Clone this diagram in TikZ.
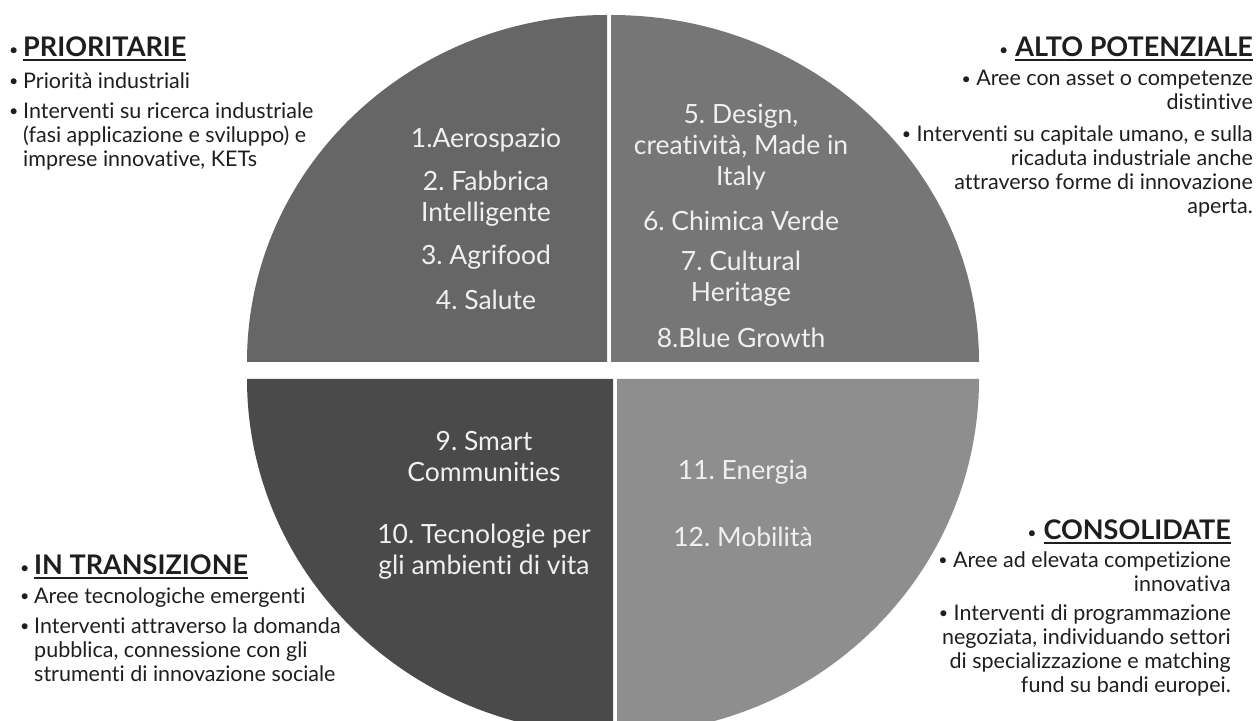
\documentclass[tikz,border=0pt]{standalone}
\usepackage{fontspec}
\setmainfont{Lato}[Ligatures=CommonOff]
\usepackage{tikz}

\definecolor{quadTL}{HTML}{666666}
\definecolor{quadTR}{HTML}{767676}
\definecolor{quadBL}{HTML}{4A4A4A}
\definecolor{quadBR}{HTML}{8E8E8E}
\definecolor{quadink}{HTML}{F0F0F0}
\definecolor{sideink}{HTML}{1E1E1E}

\newcommand{\smallbullet}{\raisebox{1.5pt}{\mdseries\fontsize{16}{18}\selectfont\textbullet}}
\newcommand{\sidebullet}{\makebox[14pt][l]{\smallbullet}}
\newcommand{\sideindent}{\hspace*{14pt}}
\newcommand{\headbullet}{\smallbullet\hspace{7pt}}
\newcommand{\headul}[1]{\setbox0\hbox{#1}\rlap{\rule[-4pt]{\wd0}{2pt}}\box0}

\begin{document}
\frenchspacing
\begin{tikzpicture}[
x=1pt, y=1pt, % one unit per pixel of the 1260x720 canvas
every node/.style={inner sep=0pt},
quadtext/.style={align=center, text=quadink, font=\fontsize{26.5}{31}\selectfont},
sidetext/.style={text=sideink, font=\fontsize{21.5}{24}\selectfont},
headtext/.style={text=sideink, font=\fontsize{27}{30}\selectfont\bfseries}
]
\useasboundingbox (0,0) rectangle (1260,720);
\clip (0,0) rectangle (1260,720);

% ================= Quadrants (four quarters of the ellipse) =================

\fill[quadTL] (607,358) -- (247,358) arc[start angle=180, end angle=90, x radius=360, y radius=347] -- cycle;
\fill[quadTR] (611,358) -- (611,705) arc[start angle=90, end angle=0, x radius=368, y radius=347] -- cycle;
\fill[quadBL] (613,341) -- (247,341) arc[start angle=180, end angle=270, x radius=366, y radius=355] -- cycle;
\fill[quadBR] (617,341) -- (617,-14) arc[start angle=270, end angle=360, x radius=362, y radius=355] -- cycle;

% ================= Areas inside the quadrants =================

% Top left
\node[quadtext] (aero) at (486, 580) {1.Aerospazio};
\node[quadtext] (fabbrica) at (486, 521) {2. Fabbrica\\Intelligente};
\node[quadtext] (agri) at (486, 463) {3. Agrifood};
\node[quadtext] (salute) at (486, 420) {4. Salute};

% Top right
\node[quadtext] (design) at (741, 573) {5. Design,\\creatività, Made in\\Italy};
\node[quadtext] (chimica) at (741, 499) {6. Chimica Verde};
\node[quadtext] (heritage) at (741, 441) {7. Cultural\\Heritage};
\node[quadtext] (blue) at (741, 382) {8.Blue Growth};

% Bottom left
\node[quadtext] (smart) at (484, 263) {9. Smart\\Communities};
\node[quadtext] (tecno) at (484, 168) {10. Tecnologie per\\gli ambienti di vita};

% Bottom right
\node[quadtext] (energia) at (743, 248) {11. Energia};
\node[quadtext] (mobilita) at (743, 183) {12. Mobilità};

% ================= Side notes =================

% Prioritarie (top left)
\node[headtext, anchor=north west] (prioH) at (9, 683) {\sidebullet\headul{PRIORITARIE}};
\node[sidetext, anchor=north west, align=left] (prio1) at (9, 648) {\sidebullet Priorità industriali};
\node[sidetext, anchor=north west, align=left] (prio2) at (9, 618)
  {\sidebullet Interventi su ricerca industriale\\ \sideindent(fasi applicazione e sviluppo) e\\ \sideindent imprese innovative, KETs};

% Alto potenziale (top right)
\node[headtext, anchor=north east] (altoH) at (1253, 683) {\headbullet\headul{ALTO POTENZIALE}};
\node[sidetext, anchor=north east, align=right] (alto1) at (1253, 650)
  {\smallbullet\ Aree con asset o competenze\\ distintive};
\node[sidetext, anchor=north east, align=right] (alto2) at (1253, 595)
  {\smallbullet\ Interventi su capitale umano, e sulla\\ ricaduta industriale anche\\ attraverso forme di innovazione\\ aperta.};

% In transizione (bottom left)
\node[headtext, anchor=north west] (transH) at (20, 165) {\sidebullet\headul{IN TRANSIZIONE}};
\node[sidetext, anchor=north west, align=left] (trans1) at (20, 133) {\sidebullet Aree tecnologiche emergenti};
\node[sidetext, anchor=north west, align=left] (trans2) at (20, 103)
  {\sidebullet Interventi attraverso la domanda\\ \sideindent pubblica, connessione con gli\\ \sideindent strumenti di innovazione sociale};

% Consolidate (bottom right)
\node[headtext, anchor=north east] (consH) at (1231, 200) {\headbullet\headul{CONSOLIDATE}};
\node[sidetext, anchor=north east, align=right] (cons1) at (1231, 169)
  {\smallbullet\ Aree ad elevata competizione\\ innovativa};
\node[sidetext, anchor=north east, align=right] (cons2) at (1231, 116)
  {\smallbullet\ Interventi di programmazione\\ negoziata, individuando settori\\ di specializzazione e matching\\ fund su bandi europei.};

\end{tikzpicture}
\end{document}
